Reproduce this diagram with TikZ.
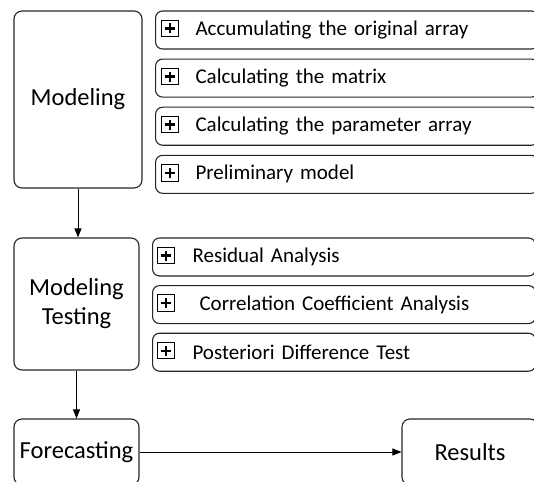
\documentclass[tikz,border=0pt]{standalone}
\usepackage{fontspec}
\setmainfont{Carlito}
\usepackage{tikz}
\usetikzlibrary{arrows.meta, positioning}

\begin{document}
\begin{tikzpicture}[
    x=1pt, y=-1pt,
    stage/.style={rectangle, rounded corners=8pt, draw=black!85, line width=1.1pt, align=center, inner sep=0pt, font=\fontsize{24.5}{29}\selectfont},
    task/.style={rectangle, rounded corners=7pt, draw=black!85, line width=1.1pt, anchor=west, minimum height=38pt, inner xsep=40pt, text width=303pt, align=left, font=\fontsize{21}{25}\selectfont},
    plusbox/.style={rectangle, draw=black, line width=1pt, minimum size=16.5pt, inner sep=0pt,
        path picture={\draw[line width=2.4pt] ([xshift=-5pt]path picture bounding box.center) -- ([xshift=5pt]path picture bounding box.center);
                      \draw[line width=2.4pt] ([yshift=-5pt]path picture bounding box.center) -- ([yshift=5pt]path picture bounding box.center);}},
    arrow/.style={-{Triangle[length=9pt, width=7pt]}, line width=1pt}
]
\clip (0,0) rectangle (534,481);

% stages on the left
\node[stage, minimum width=128pt, minimum height=177pt] (model) at (78,99.5) {Modeling};
\node[stage, minimum width=125pt, minimum height=132pt] (test) at (76.5,304) {Modeling\\Testing};
\node[stage, minimum width=125pt, minimum height=66pt] (fore) at (76.5,452) {Forecasting};
\node[stage, minimum width=136pt, minimum height=66pt] (result) at (470,452) {Results};

% steps of modeling
\node[task] (acc) at (155,30) {Accumulating the original array};
\node[task, below=9pt of acc.south west, anchor=north west] (mat) {Calculating the matrix};
\node[task, below=9pt of mat.south west, anchor=north west] (par) {Calculating the parameter array};
\node[task, below=9pt of par.south west, anchor=north west] (pre) {Preliminary model};

% steps of testing
\node[task] (res) at (152,257) {Residual Analysis};
\node[task, below=8.5pt of res.south west, anchor=north west] (cor) {~Correlation Coefficient Analysis};
\node[task, below=8.5pt of cor.south west, anchor=north west] (post) {Posteriori Difference Test};

% plus icons
\foreach \t in {acc, mat, par, pre} {
    \node[plusbox, right=6pt of \t.west, yshift=1.5pt] (p\t) {};
}
\foreach \t in {res, cor, post} {
    \node[plusbox, right=5pt of \t.west, yshift=1.5pt] (p\t) {};
}

\draw[arrow] (model.south) -- (model.south |- test.north);
\draw[arrow] (test.south) -- (fore.north);
\draw[arrow] (fore.east) -- (result.west);

\end{tikzpicture}
\end{document}
